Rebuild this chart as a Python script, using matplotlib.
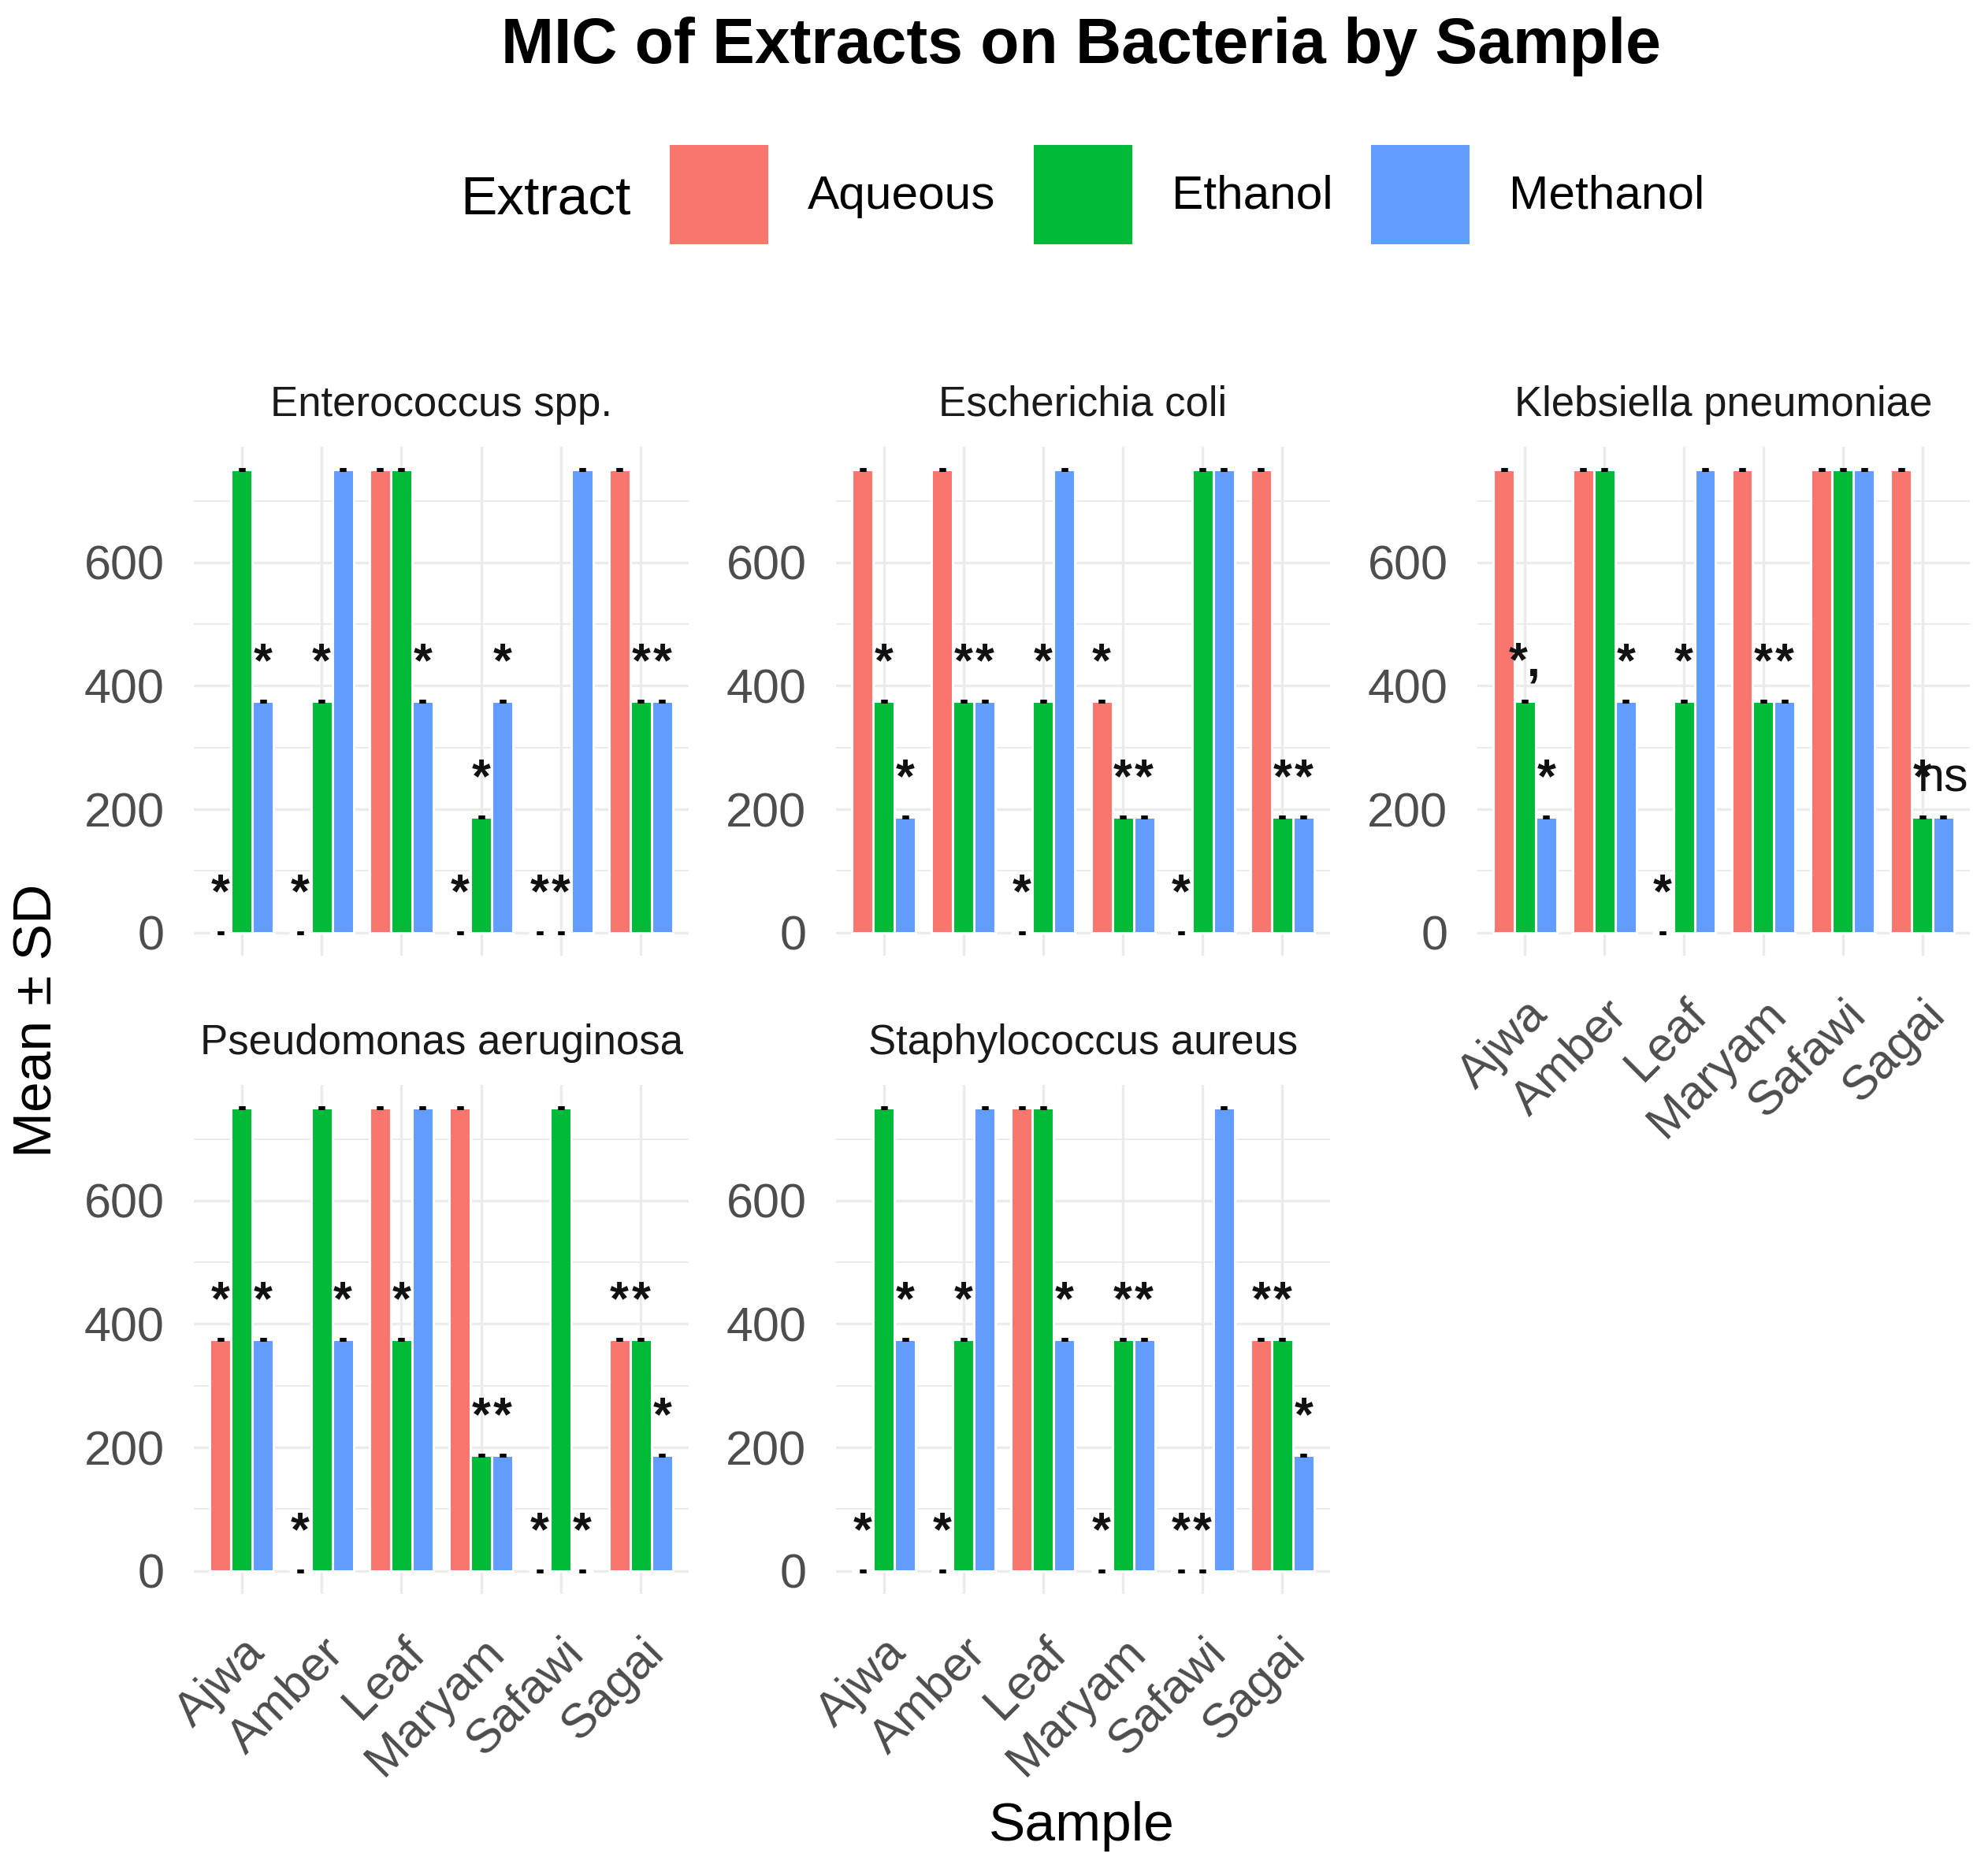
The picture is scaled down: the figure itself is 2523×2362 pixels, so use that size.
import matplotlib
matplotlib.use("Agg")
import matplotlib.pyplot as plt
from matplotlib.patches import Patch
import numpy as np

plt.rcParams["font.family"] = ["Liberation Sans", "DejaVu Sans"]

# ---------------- data ----------------
samples = ["Ajwa", "Amber", "Leaf", "Maryam", "Safawi", "Sagai"]
extracts = ["Aqueous", "Ethanol", "Methanol"]
bacteria = ["Enterococcus spp.", "Escherichia coli", "Klebsiella pneumoniae",
            "Pseudomonas aeruginosa", "Staphylococcus aureus"]
y_ticks = [0, 200, 400, 600]

# mean MIC; rows = Aqueous, Ethanol, Methanol ; columns = samples
mic_enterococcus = [[0, 0, 750, 0, 0, 750],
                    [750, 375, 750, 187.5, 0, 375],
                    [375, 750, 375, 375, 750, 375]]
mic_ecoli = [[750, 750, 0, 375, 0, 750],
             [375, 375, 375, 187.5, 750, 187.5],
             [187.5, 375, 750, 187.5, 750, 187.5]]
mic_klebsiella = [[750, 750, 0, 750, 750, 750],
                  [375, 750, 375, 375, 750, 187.5],
                  [187.5, 375, 750, 375, 750, 187.5]]
mic_pseudomonas = [[375, 0, 750, 750, 0, 375],
                   [750, 750, 375, 187.5, 750, 375],
                   [375, 375, 750, 187.5, 0, 187.5]]
mic_staph = [[0, 0, 750, 0, 0, 375],
             [750, 375, 750, 375, 0, 375],
             [375, 750, 375, 375, 750, 187.5]]

# standard deviation (all replicates identical)
sd_values = [0, 0, 0, 0, 0, 0]

# significance labels
sig_enterococcus = [["*", "*", "", "*", "*", ""],
                    ["", "*", "", "*", "*", "*"],
                    ["*", "", "*", "*", "", "*"]]
sig_ecoli = [["", "", "*", "*", "*", ""],
             ["*", "*", "*", "*", "", "*"],
             ["*", "*", "", "*", "", "*"]]
sig_klebsiella = [["", "", "*", "", "", ""],
                  ["*,", "", "*", "*", "", "*"],
                  ["*", "*", "", "*", "", "ns"]]
sig_pseudomonas = [["*", "*", "", "", "*", "*"],
                   ["", "", "*", "*", "", "*"],
                   ["*", "*", "", "*", "*", "*"]]
sig_staph = [["*", "*", "", "*", "*", "*"],
             ["", "*", "", "*", "*", "*"],
             ["*", "", "*", "*", "", "*"]]

means_all = [mic_enterococcus, mic_ecoli, mic_klebsiella, mic_pseudomonas, mic_staph]
sigs_all = [sig_enterococcus, sig_ecoli, sig_klebsiella, sig_pseudomonas, sig_staph]

# ---------------- style / layout ----------------
colors = ["#F8766D", "#00BA38", "#619CFF"]
W, H = 2523, 2362
fig = plt.figure(figsize=(W / 100, H / 100), dpi=100)

cols = [(246, 874), (1061, 1688), (1875, 2500)]
rows = [(567, 1213), (1377, 2023)]
grid_pos = [(0, 0), (1, 0), (2, 0), (0, 1), (1, 1)]
show_x = [False, False, True, True, True]

bar_w = 0.267
offsets = [-bar_w, 0, bar_w]
label_offset = 41


def rect(l, t, r, b):
    return [l / W, 1 - b / H, (r - l) / W, (b - t) / H]


x = np.arange(len(samples))
for i, name in enumerate(bacteria):
    c, r = grid_pos[i]
    (l, rr), (t, b) = cols[c], rows[r]
    ax = fig.add_axes(rect(l, t, rr, b))
    for j, ext in enumerate(extracts):
        vals = means_all[i][j]
        ax.bar(x + offsets[j], vals, width=bar_w, color=colors[j],
               edgecolor="white", linewidth=2.2, zorder=2)
        ax.errorbar(x + offsets[j], vals, yerr=sd_values, fmt="none",
                    ecolor="black", elinewidth=1.5, capsize=3.2,
                    capthick=3.5, zorder=3)
        for k, lab in enumerate(sigs_all[i][j]):
            if lab:
                weight = "normal" if lab == "ns" else "bold"
                ax.text(x[k] + offsets[j], vals[k] + label_offset, lab,
                        ha="center", va="baseline", fontsize=44,
                        fontweight=weight, color="#111111", zorder=4)
    ax.set_xlim(-0.6, len(samples) - 0.4)
    ax.set_ylim(-37.5, 787.5)
    ax.set_yticks(y_ticks)
    ax.set_yticks([100, 300, 500, 700], minor=True)
    ax.set_xticks(x)
    ax.set_axisbelow(True)
    ax.grid(which="major", color="#EBEBEB", linewidth=2.4)
    ax.grid(which="minor", axis="y", color="#EBEBEB", linewidth=1.4)
    for s in ax.spines.values():
        s.set_visible(False)
    ax.tick_params(which="both", length=0)
    ax.tick_params(axis="y", labelsize=44, labelcolor="#4D4D4D", pad=27)
    if show_x[i]:
        ax.set_xticklabels(samples, rotation=45, ha="right",
                           rotation_mode="anchor", fontsize=44,
                           color="#4D4D4D")
        ax.tick_params(axis="x", pad=33)
    else:
        ax.tick_params(axis="x", labelbottom=False)
    fig.text((l + rr) / 2 / W, 1 - (t - 39) / H, name, ha="center",
             va="baseline", fontsize=38, color="#1A1A1A")

# title
fig.text(1372 / W, 1 - 80 / H, "MIC of Extracts on Bacteria by Sample",
         ha="center", va="baseline", fontsize=58, fontweight="bold")

# legend
handles = [Patch(facecolor=col, edgecolor="none") for col in colors]
fig.legend(handles, extracts, ncol=3, loc="center left",
           bbox_to_anchor=(850 / W, 1 - 247 / H), frameon=False,
           fontsize=43.5, handlelength=2.07, handleheight=2.81,
           handletextpad=0.83, columnspacing=0.8, borderpad=0,
           borderaxespad=0)
fig.text(584 / W, 1 - 272 / H, "Extract", ha="left", va="baseline", fontsize=50)

# axis titles
fig.text(48 / W, 1 - 1295 / H, "Mean ± SD", rotation=90, ha="center",
         va="center", fontsize=50)
fig.text(1373 / W, 1 - 2336 / H, "Sample", ha="center", va="baseline",
         fontsize=50)

fig.savefig("out.png", dpi=100, facecolor="white")
